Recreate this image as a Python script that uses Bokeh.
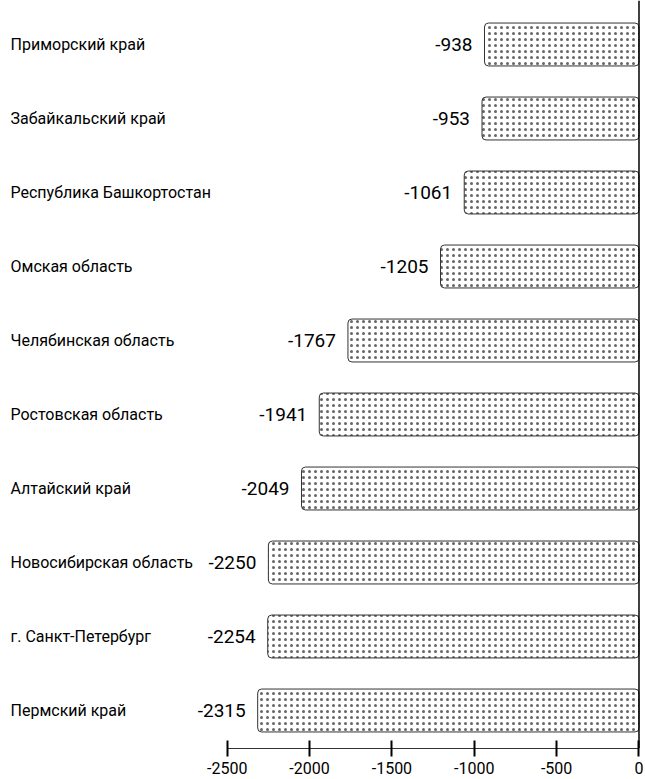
from bokeh.plotting import figure
from bokeh.models import Range1d, LinearAxis, FixedTicker, Span, ColumnDataSource
from bokeh.core.properties import value
from bokeh.embed import file_html
from bokeh.resources import INLINE

regions = [
    "Приморский край",
    "Забайкальский край",
    "Республика Башкортостан",
    "Омская область",
    "Челябинская область",
    "Ростовская область",
    "Алтайский край",
    "Новосибирская область",
    "г. Санкт-Петербург",
    "Пермский край",
]
values = [-938, -953, -1061, -1205, -1767, -1941, -2049, -2250, -2254, -2315]
tick_values = [-2500, -2000, -1500, -1000, -500, 0]
tick_labels = ["-2500", "-2000", "-1500", "-1000", "-500", "0"]

FONT = "Roboto"

x_start, x_end = -3876.3, 39.5
n = len(regions)
p = figure(
    width=645, height=779,
    x_range=Range1d(x_start, x_end),
    y_range=Range1d(n - 0.4865, -0.5946),
    output_backend="svg", toolbar_location=None,
    x_axis_location=None, y_axis_location=None,
    min_border_left=0, min_border_right=0, min_border_top=0, min_border_bottom=31,
)
p.outline_line_color = None
p.xgrid.visible = False
p.ygrid.visible = False

src = ColumnDataSource(dict(
    pos=list(range(n)),
    region=regions, val=values,
    label=[str(v) for v in values],
    lx=[x_start] * n,
))

p.hbar(y="pos", left="val", right=0, height=0.58, source=src,
       fill_color="white", line_color="#333333", line_width=1,
       hatch_pattern="dot", hatch_scale=6, hatch_color="#666666", hatch_weight=1.1,
       border_radius=4)

p.text(x="val", y="pos", text="label", source=src,
       text_align="right", text_baseline="middle", x_offset=-12,
       text_font=value(FONT), text_font_size="19px", text_color="#000000")

p.text(x="lx", y="pos", text="region", source=src,
       text_align="left", text_baseline="middle", x_offset=10,
       text_font=value(FONT), text_font_size="16px", text_color="#000000")

p.add_layout(Span(location=0, dimension="height", line_color="#000000", line_width=1.5))

ax = LinearAxis(ticker=FixedTicker(ticks=tick_values), bounds=(-2500, 0))
ax.major_label_overrides = {t: l for t, l in zip(tick_values, tick_labels)}
ax.major_tick_in = 8
ax.major_tick_out = 8
ax.minor_tick_line_color = None
ax.major_tick_line_width = 2
ax.major_tick_line_color = "#000000"
ax.axis_line_color = "#333333"
ax.axis_line_width = 1
ax.major_label_text_font = FONT
ax.major_label_text_font_size = "16px"
ax.major_label_text_color = "#000000"
ax.major_label_standoff = 5
p.add_layout(ax, "below")

open("out.html", "w").write(file_html(p, INLINE))
